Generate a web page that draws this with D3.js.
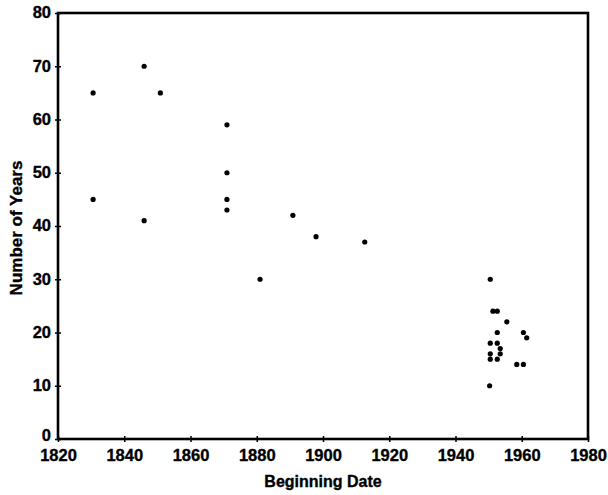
<!DOCTYPE html>
<html lang="en">
<head>
<meta charset="UTF-8">
<title>Beginning Date vs Number of Years</title>
<script src="https://d3js.org/d3.v7.min.js"></script>
<style>
  body { margin: 0; background: #fff; }
  svg { display: block; }
  text { font-family: "Liberation Sans", Arial, sans-serif; font-weight: bold; fill: #000; stroke: #000; stroke-width: 0.35px; }
</style>
</head>
<body>
<svg width="608" height="495"></svg>
<script>
// beginning year of each period
const years = [1830.6, 1830.6, 1846, 1846, 1850.9,
  1871, 1871, 1871, 1871, 1881, 1890.9, 1897.9, 1912.6,
  1950.5, 1951.3, 1952.6, 1955.5, 1952.6, 1960.5, 1961.5, 1950.5, 1952.6,
  1953.5, 1953.5, 1950.5, 1950.5, 1952.6, 1958.5, 1960.5, 1950.3];
// length of each period (years)
const lengths = [65, 45, 70, 41, 65,
  59, 50, 45, 43, 30, 42, 38, 37,
  30, 24, 24, 22, 20, 20, 19, 18, 18,
  17, 16, 16, 15, 15, 14, 14, 10];
const xTicks = d3.range(1820, 1981, 20);
const yTicks = d3.range(0, 81, 10);

const svg = d3.select("svg");
const margin = { left: 58, right: 20, top: 13, bottom: 56 };
const W = 608, H = 495;

const x = d3.scaleLinear().domain([1820, 1980]).range([margin.left, W - margin.right]);
const y = d3.scaleLinear().domain([0, 80]).range([H - margin.bottom, margin.top]);

// frame
svg.append("rect")
  .attr("x", x(1820)).attr("y", y(80))
  .attr("width", x(1980) - x(1820)).attr("height", y(0) - y(80))
  .attr("fill", "none").attr("stroke", "#000").attr("stroke-width", 2.6);

const xAxis = svg.append("g")
  .attr("transform", `translate(0,${y(0)})`)
  .call(d3.axisBottom(x).tickValues(xTicks).tickFormat(d3.format("d")).tickSizeInner(3).tickSizeOuter(0).tickPadding(7));
xAxis.select(".domain").remove();
xAxis.selectAll(".tick line").attr("y1", -3).attr("stroke-width", 1.5);
xAxis.selectAll("text").style("font-size", "16.5px").style("font-family", "Liberation Sans, Arial, sans-serif").style("font-weight", "bold");

const yAxis = svg.append("g")
  .attr("transform", `translate(${x(1820)},0)`)
  .call(d3.axisLeft(y).tickValues(yTicks).tickSizeInner(3).tickSizeOuter(0).tickPadding(4));
yAxis.select(".domain").remove();
yAxis.selectAll(".tick line").attr("x1", 3).attr("x2", -3).attr("stroke-width", 1.5);
yAxis.selectAll("text").style("font-size", "16.5px").style("font-family", "Liberation Sans, Arial, sans-serif").style("font-weight", "bold")
  .attr("dy", d => d === 0 ? "0.1em" : "0.3em");

svg.append("g").selectAll("circle")
  .data(years.map((d, i) => [d, lengths[i]]))
  .join("circle")
  .attr("cx", d => x(d[0]))
  .attr("cy", d => y(d[1]))
  .attr("r", 2.6)
  .attr("fill", "#000");

svg.append("text")
  .attr("x", (x(1820) + x(1980)) / 2)
  .attr("y", 487)
  .attr("text-anchor", "middle")
  .style("font-size", "16px")
  .text("Beginning Date");

svg.append("text")
  .attr("transform", `translate(22,${(y(0) + y(80)) / 2 + 2}) rotate(-90)`)
  .attr("text-anchor", "middle")
  .style("font-size", "17px")
  .text("Number of Years");
</script>
</body>
</html>
